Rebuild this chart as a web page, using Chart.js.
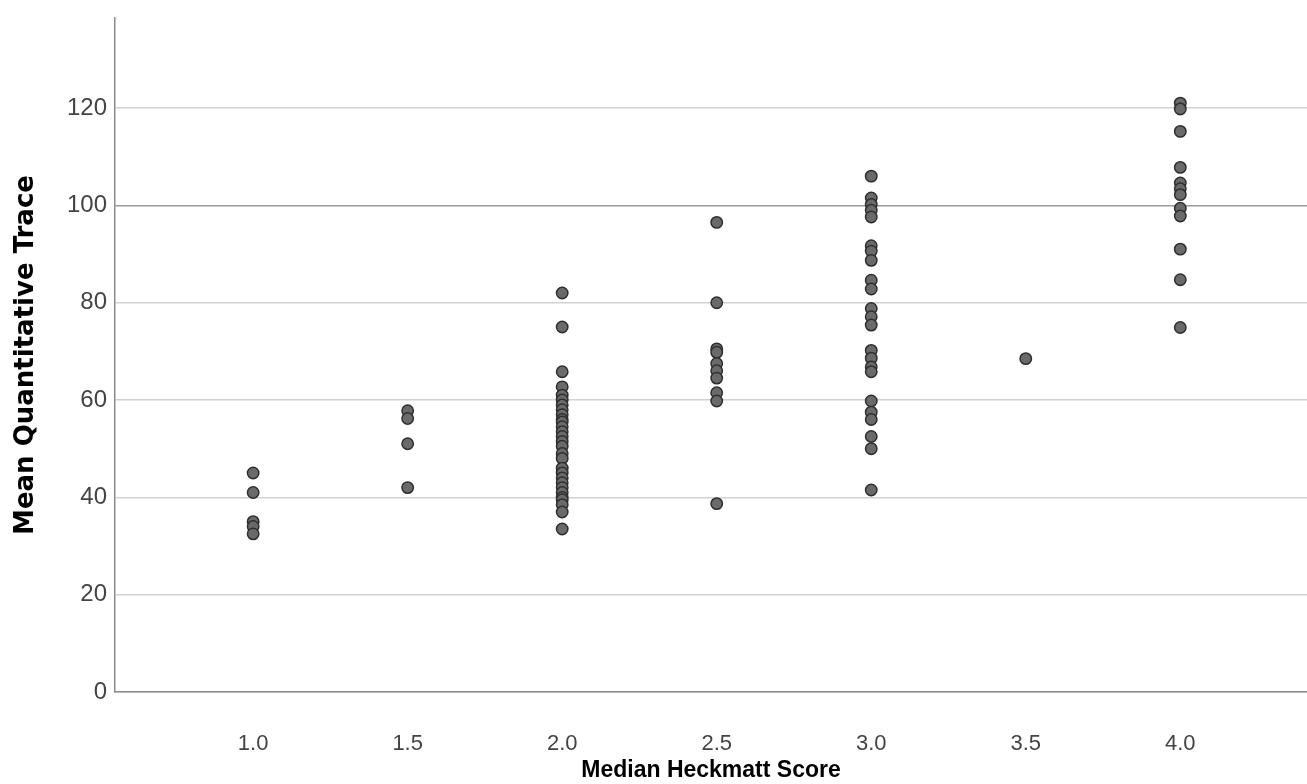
<!DOCTYPE html>
<html>
<head>
<meta charset="utf-8">
<script src="https://cdn.jsdelivr.net/npm/chart.js@4.4.1/dist/chart.umd.min.js"></script>
<style>
  html, body { margin: 0; padding: 0; background: #fff; }
  #wrap { width: 1307px; height: 784px; }
</style>
</head>
<body>
<div id="wrap"><canvas id="scatter"></canvas></div>
<script>
// data
const scores = [1.0, 1.5, 2.0, 2.5, 3.0, 3.5, 4.0];
const trace10 = [45, 41, 35, 34, 32.5];
const trace15 = [57.8, 56.2, 51, 42];
const trace20 = [82, 75, 65.8, 62.7, 61, 60, 59, 58, 57, 56, 55.5, 54.5, 53.5, 52.5, 51.5, 50.5, 49,
                 48, 46, 45, 44, 43, 42, 41, 40, 39.5, 38.5, 37, 33.5];
const trace25 = [96.5, 80, 70.5, 69.8, 67.5, 66, 64.5, 61.5, 59.8, 38.7];
const trace30 = [106, 101.5, 100.2, 99, 97.6, 91.7, 90.6, 88.7, 84.6, 82.8, 78.8, 77.1, 75.4,
                 70.2, 68.6, 66.8, 65.8, 59.8, 57.5, 56, 52.5, 50, 41.5];
const trace35 = [68.5];
const trace40 = [121, 119.8, 115.2, 107.8, 104.6, 103.4, 102.2, 99.4, 97.8, 91, 84.7, 74.9];
const traceGroups = [trace10, trace15, trace20, trace25, trace30, trace35, trace40];
const yTicks = [0, 20, 40, 60, 80, 100, 120];

const points = [];
scores.forEach(function(s, i) {
    traceGroups[i].forEach(function(v) { points.push({ x: s, y: v }); });
});

const sans = 'Liberation Sans, Arial, sans-serif';

new Chart(document.getElementById('scatter'), {
    type: 'scatter',
    data: {
        datasets: [{
            data: points,
            backgroundColor: '#6a6a6a',
            borderColor: '#2e2e2e',
            borderWidth: 1.5,
            pointRadius: 5.7,
            pointHoverRadius: 5.7
        }]
    },
    options: {
        responsive: true,
        maintainAspectRatio: false,
        animation: false,
        layout: { autoPadding: false, padding: { top: 18, right: 0, left: 0, bottom: 0 } },
        plugins: {
            legend: { display: false },
            tooltip: { enabled: false }
        },
        scales: {
            x: {
                type: 'linear',
                min: 0.553,
                max: 4.41,
                afterBuildTicks: function(scale) {
                    scale.ticks = scores.map(function(v) { return { value: v }; });
                },
                afterFit: function(scale) {
                    scale.height = 92;
                    scale.paddingLeft = 0;
                    scale.paddingRight = 0;
                },
                grid: { display: false, drawTicks: false },
                border: { display: true, color: '#8c8c8c', width: 1.5 },
                ticks: {
                    color: '#444',
                    font: { family: sans, size: 22 },
                    padding: 39,
                    maxRotation: 0,
                    callback: function(v) { return Number(v).toFixed(1); }
                },
                title: {
                    display: true,
                    text: 'Median Heckmatt Score',
                    color: '#000',
                    font: { family: sans, size: 23, weight: 'bold', lineHeight: 1.2 },
                    padding: { top: 0, bottom: 0 }
                }
            },
            y: {
                min: 0,
                max: 138.5,
                afterBuildTicks: function(scale) {
                    scale.ticks = yTicks.map(function(v) { return { value: v }; });
                },
                afterFit: function(scale) {
                    scale.width = 115;
                    scale.paddingTop = 0;
                    scale.paddingBottom = 0;
                },
                grid: {
                    drawTicks: false,
                    color: function(ctx) {
                        if (ctx.tick && ctx.tick.value === 100) return '#9a9a9a';
                        return '#d2d2d2';
                    },
                    lineWidth: 1.5
                },
                border: { display: true, color: '#8c8c8c', width: 1.5 },
                ticks: {
                    color: '#444',
                    font: { family: sans, size: 24 },
                    padding: 8
                },
                title: {
                    display: true,
                    text: 'Mean Quantitative Trace',
                    color: '#000',
                    font: { family: 'DejaVu Sans, sans-serif', size: 26, weight: 'bold' },
                    padding: { top: 11, bottom: 0 }
                }
            }
        }
    }
});
</script>
</body>
</html>
